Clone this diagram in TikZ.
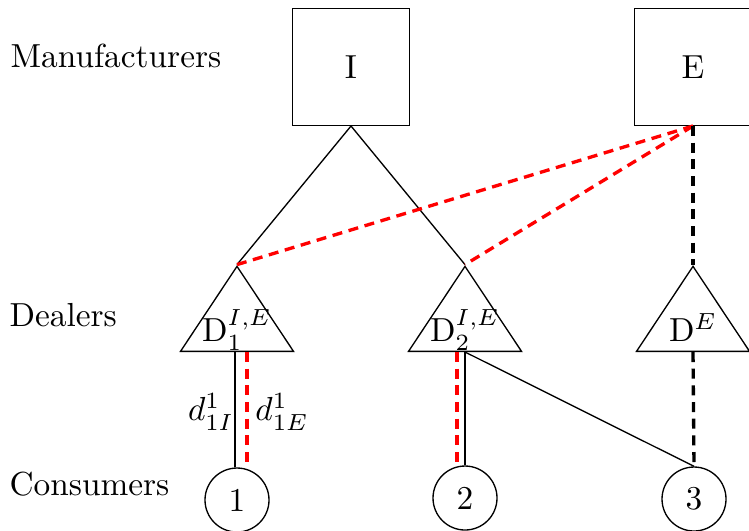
\documentclass[tikz,border=0pt]{standalone}
\usetikzlibrary{shapes.geometric}

\begin{document}
\begin{tikzpicture}[
    x=0.3pt, y=-0.3pt,
    firm/.style={
        draw,
        rectangle,
        minimum width=35pt,
        minimum height=35pt
    },
    dealer/.style={
        draw,
        isosceles triangle,
        shape border rotate=90,
        isosceles triangle stretches,
        minimum width=33.9pt,
        minimum height=25.5pt,
        inner sep=0pt,
        anchor=lower side,
        label={[anchor=base, yshift=3.2pt, inner sep=0pt]south:#1}
    },
    consumer/.style={
        draw,
        circle,
        minimum size=19.2pt,
        inner sep=0pt
    },
    tier/.style={anchor=base west, inner sep=0pt},
    redlink/.style={red, line width=1pt, dash pattern=on 3pt off 2pt},
    blacklink/.style={black, line width=1pt, dash pattern=on 3pt off 2pt}
]
\useasboundingbox (0,0) rectangle (749,530);

% Tiers
\node[tier] (manu) at (10,67) {Manufacturers};
\node[tier] (deal) at (9,326) {Dealers};
\node[tier] (cons) at (9,495) {Consumers};

% Manufacturers
\node[firm] (I) at (351,67) {I};
\node[firm] (E) at (693,67) {E};

% Dealers
\node[dealer={D$_1^{I,E}$}] (D1) at (237,352) {};
\node[dealer={D$_2^{I,E}$}] (D2) at (465,352) {};
\node[dealer={D$^E$}] (DE) at (693,352) {};

% Consumers
\node[consumer] (C1) at (237,500) {1};
\node[consumer] (C2) at (465,498) {2};
\node[consumer] (C3) at (694,499) {3};

% Upstream links
\draw (I.south)--(D1.apex);
\draw (I.south)--(D2.apex);
\draw[redlink] (E.south)--(D1.apex);
\draw[redlink] (E.south)--(D2.apex);
\draw[blacklink] (E.south)--(DE.apex);

% Downstream links
\draw ([xshift=-0.6pt]D1.lower side)--([xshift=-0.6pt]C1.north);
\draw[redlink] ([xshift=3pt]D1.lower side)--([xshift=3pt]C1.north);
\draw[redlink] ([xshift=-2.4pt]D2.lower side)--([xshift=-2.4pt]C2.north);
\draw (D2.lower side)--(C2.north);
\draw (D2.lower side)--(C3.north);
\draw[blacklink] (DE.lower side)--(C3.north);

% Link labels
\node[inner sep=0pt] (dI) at (211,412) {$d^1_{1I}$};
\node[inner sep=0pt] (dE) at (282,412) {$d^1_{1E}$};

\end{tikzpicture}
\end{document}
